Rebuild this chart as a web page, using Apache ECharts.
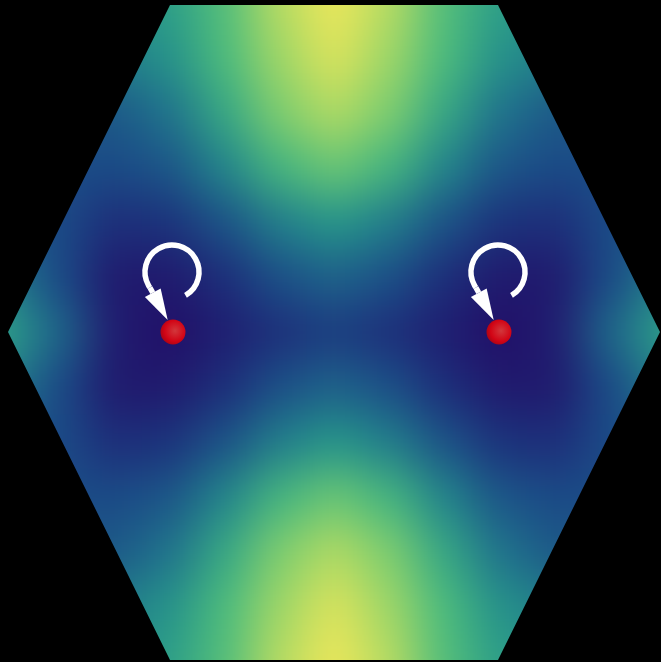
<!DOCTYPE html>
<html>
<head>
<meta charset="utf-8">
<script src="https://cdn.jsdelivr.net/npm/echarts@6/dist/echarts.min.js"></script>
<style>
  html, body { margin: 0; padding: 0; background: #000; overflow: hidden; width: 661px; height: 662px; }
  /* the sampled field is drawn on a coarse grid and smoothed by the blur */
  #field { position: absolute; left: -78.5px; top: -80px; width: 825px; height: 825px; filter: blur(22px); }
  #marks { position: absolute; left: 0; top: 0; width: 661px; height: 662px; }
</style>
</head>
<body>
<div id="field"></div>
<div id="marks"></div>
<script>
// Grid cell indices (columns left→right, rows top→bottom), 55 px apart, centred on the zone centre
const columns = [-7, -6, -5, -4, -3, -2, -1, 0, 1, 2, 3, 4, 5, 6, 7];
const rows = [-7, -6, -5, -4, -3, -2, -1, 0, 1, 2, 3, 4, 5, 6, 7];

// Sampled field magnitude (0 = darkest, 1 = brightest), one array per row
const row0  = [0.46, 0.46, 0.46, 0.49, 0.53, 0.65, 0.85, 1.00, 0.85, 0.65, 0.53, 0.49, 0.46, 0.46, 0.46];
const row1  = [0.45, 0.45, 0.45, 0.48, 0.52, 0.64, 0.85, 1.00, 0.85, 0.64, 0.52, 0.48, 0.45, 0.45, 0.45];
const row2  = [0.42, 0.40, 0.40, 0.42, 0.48, 0.62, 0.80, 0.95, 0.80, 0.62, 0.48, 0.42, 0.40, 0.40, 0.42];
const row3  = [0.38, 0.33, 0.30, 0.30, 0.39, 0.55, 0.73, 0.84, 0.73, 0.55, 0.39, 0.30, 0.30, 0.33, 0.38];
const row4  = [0.36, 0.30, 0.26, 0.25, 0.29, 0.44, 0.60, 0.69, 0.60, 0.44, 0.29, 0.25, 0.26, 0.30, 0.36];
const row5  = [0.38, 0.30, 0.25, 0.14, 0.16, 0.28, 0.42, 0.49, 0.42, 0.28, 0.16, 0.14, 0.25, 0.30, 0.38];
const row6  = [0.48, 0.42, 0.25, 0.05, 0.05, 0.14, 0.27, 0.33, 0.27, 0.14, 0.05, 0.05, 0.25, 0.42, 0.48];
const row7  = [0.60, 0.52, 0.34, 0.06, 0.00, 0.07, 0.15, 0.20, 0.15, 0.07, 0.00, 0.06, 0.34, 0.52, 0.60];
const row8  = [0.48, 0.42, 0.25, 0.05, 0.05, 0.14, 0.27, 0.33, 0.27, 0.14, 0.05, 0.05, 0.25, 0.42, 0.48];
const row9  = [0.38, 0.30, 0.25, 0.14, 0.16, 0.28, 0.42, 0.49, 0.42, 0.28, 0.16, 0.14, 0.25, 0.30, 0.38];
const row10 = [0.36, 0.30, 0.26, 0.25, 0.29, 0.44, 0.60, 0.69, 0.60, 0.44, 0.29, 0.25, 0.26, 0.30, 0.36];
const row11 = [0.38, 0.33, 0.30, 0.30, 0.39, 0.55, 0.73, 0.84, 0.73, 0.55, 0.39, 0.30, 0.30, 0.33, 0.38];
const row12 = [0.42, 0.40, 0.40, 0.42, 0.48, 0.62, 0.80, 0.95, 0.80, 0.62, 0.48, 0.42, 0.40, 0.40, 0.42];
const row13 = [0.45, 0.45, 0.45, 0.48, 0.52, 0.64, 0.85, 1.00, 0.85, 0.64, 0.52, 0.48, 0.45, 0.45, 0.45];
const row14 = [0.46, 0.46, 0.46, 0.49, 0.53, 0.65, 0.85, 1.00, 0.85, 0.65, 0.53, 0.49, 0.46, 0.46, 0.46];
const fieldRows = [row0, row1, row2, row3, row4, row5, row6, row7, row8, row9, row10, row11, row12, row13, row14];

// Zone outline (plot units = pixels of the picture frame)
const hexX = [170, 498, 660, 498, 170, 8];
const hexY = [5, 5, 332, 660, 660, 332];

// Valley points, each with a circulating loop above it
const valleyX = [173, 499];
const valleyY = [332, 332];

const ramp = ['#220f68', '#1d2a78', '#1b4a86', '#1f6f8c', '#27998a',
              '#4cbc7c', '#86d06c', '#c2de60', '#ece75a'];

// ---------- field ----------
const heatData = [];
fieldRows.forEach(function (r, j) {
  r.forEach(function (v, i) { heatData.push([i, j, v]); });
});

const field = echarts.init(document.getElementById('field'), null, { renderer: 'canvas' });
field.setOption({
  animation: false,
  backgroundColor: '#000',
  grid: { left: 0, right: 0, top: 0, bottom: 0 },
  xAxis: { type: 'category', data: columns, show: false },
  yAxis: { type: 'category', data: rows, show: false, inverse: true },
  visualMap: { show: false, min: 0, max: 1, dimension: 2, inRange: { color: ramp } },
  series: [{ type: 'heatmap', data: heatData, progressive: 0, emphasis: { disabled: true } }]
});

// ---------- outline mask, loops and points ----------
const valleys = valleyX.map(function (x, i) { return [x, valleyY[i]]; });
const hex = hexX.map(function (x, i) { return [x, hexY[i]]; });

function maskItem(params, api) {
  const c = function (p) { return api.coord(p); };
  const lo = -20, hiX = 681, hiY = 682;
  const top = [[lo, lo], [hiX, lo], [hiX, hex[2][1]], hex[2], hex[1], hex[0], hex[5], [lo, hex[5][1]]];
  const bottom = [[lo, hex[5][1]], hex[5], hex[4], hex[3], hex[2], [hiX, hex[2][1]], [hiX, hiY], [lo, hiY]];
  return {
    type: 'group',
    children: [
      { type: 'polygon', shape: { points: top.map(c) }, style: { fill: '#000' } },
      { type: 'polygon', shape: { points: bottom.map(c) }, style: { fill: '#000' } }
    ]
  };
}

function loopItem(params, api) {
  const p = api.coord([api.value(0), api.value(1)]);
  const cx = p[0] - 1, cy = p[1] - 60, r = 27;
  const a0 = 60 * Math.PI / 180, a1 = 145 * Math.PI / 180;
  const ex = cx + r * Math.cos(a1), ey = cy + r * Math.sin(a1);
  const dx = 0.481, dy = 0.877;          // heading of the arrow head
  const bx = ex + 6 * dx, by = ey + 6 * dy;
  const w = 9;
  return {
    type: 'group',
    children: [
      {
        type: 'arc',
        shape: { cx: cx, cy: cy, r: r, startAngle: a0, endAngle: a1, clockwise: false },
        style: { stroke: '#fff', lineWidth: 5.5, fill: null }
      },
      {
        type: 'polygon',
        shape: { points: [[bx - w * dy, by + w * dx], [bx + w * dy, by - w * dx], [ex + 37 * dx, ey + 37 * dy]] },
        style: { fill: '#fff' }
      },
      {
        type: 'line',
        shape: { x1: ex, y1: ey, x2: bx, y2: by },
        style: { stroke: '#fff', lineWidth: 5.5 }
      }
    ]
  };
}

const marks = echarts.init(document.getElementById('marks'), null, { renderer: 'canvas' });
marks.setOption({
  animation: false,
  grid: { left: 0, right: 0, top: 0, bottom: 0 },
  xAxis: { type: 'value', min: 0, max: 661, show: false },
  yAxis: { type: 'value', min: 0, max: 662, inverse: true, show: false },
  series: [
    { type: 'custom', renderItem: maskItem, data: [0], silent: true, z: 1, clip: false },
    { type: 'custom', renderItem: loopItem, data: valleys, silent: true, z: 2, clip: false },
    {
      type: 'scatter', data: valleys, symbol: 'circle', symbolSize: 25, z: 3, silent: true,
      itemStyle: {
        color: {
          type: 'radial', x: 0.58, y: 0.45, r: 0.6,
          colorStops: [
            { offset: 0, color: '#ff4030' },
            { offset: 0.7, color: '#ff0000' },
            { offset: 1, color: '#cc0000' }
          ]
        }
      }
    }
  ]
});
</script>
</body>
</html>
